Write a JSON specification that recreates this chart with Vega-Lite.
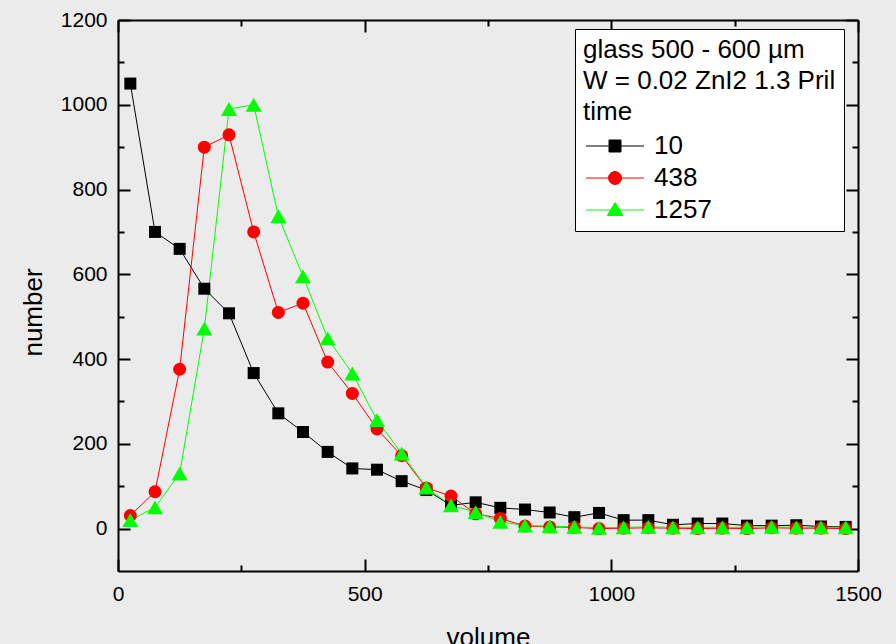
{
  "$schema": "https://vega.github.io/schema/vega-lite/v6.json",
  "width": 740,
  "height": 551,
  "autosize": {"type": "none"},
  "padding": {"left": 118, "top": 20, "right": 38, "bottom": 73},
  "background": "#ebebeb",
  "config": {
    "view": {"stroke": null},
    "font": "Liberation Sans",
    "axis": {
      "labelFont": "Liberation Sans",
      "titleFont": "Liberation Sans",
      "labelColor": "#000000",
      "titleColor": "#000000",
      "domainColor": "#000000",
      "tickColor": "#000000",
      "domainWidth": 2,
      "tickWidth": 2,
      "grid": false,
      "labelFontSize": 21,
      "titleFontSize": 26,
      "titleFontWeight": "normal",
      "labelFlush": false
    }
  },
  "data": {
    "values": [
      {"volume": 25, "number": 1050, "time": "10"},
      {"volume": 75, "number": 700, "time": "10"},
      {"volume": 125, "number": 660, "time": "10"},
      {"volume": 175, "number": 566, "time": "10"},
      {"volume": 225, "number": 508, "time": "10"},
      {"volume": 275, "number": 367, "time": "10"},
      {"volume": 325, "number": 272, "time": "10"},
      {"volume": 375, "number": 228, "time": "10"},
      {"volume": 425, "number": 181, "time": "10"},
      {"volume": 475, "number": 142, "time": "10"},
      {"volume": 525, "number": 139, "time": "10"},
      {"volume": 575, "number": 112, "time": "10"},
      {"volume": 625, "number": 91, "time": "10"},
      {"volume": 675, "number": 55, "time": "10"},
      {"volume": 725, "number": 62, "time": "10"},
      {"volume": 775, "number": 49, "time": "10"},
      {"volume": 825, "number": 45, "time": "10"},
      {"volume": 875, "number": 38, "time": "10"},
      {"volume": 925, "number": 27, "time": "10"},
      {"volume": 975, "number": 37, "time": "10"},
      {"volume": 1025, "number": 20, "time": "10"},
      {"volume": 1075, "number": 20, "time": "10"},
      {"volume": 1125, "number": 9, "time": "10"},
      {"volume": 1175, "number": 12, "time": "10"},
      {"volume": 1225, "number": 12, "time": "10"},
      {"volume": 1275, "number": 7, "time": "10"},
      {"volume": 1325, "number": 7, "time": "10"},
      {"volume": 1375, "number": 8, "time": "10"},
      {"volume": 1425, "number": 5, "time": "10"},
      {"volume": 1475, "number": 4, "time": "10"},
      {"volume": 25, "number": 31, "time": "438"},
      {"volume": 75, "number": 87, "time": "438"},
      {"volume": 125, "number": 376, "time": "438"},
      {"volume": 175, "number": 900, "time": "438"},
      {"volume": 225, "number": 929, "time": "438"},
      {"volume": 275, "number": 700, "time": "438"},
      {"volume": 325, "number": 510, "time": "438"},
      {"volume": 375, "number": 532, "time": "438"},
      {"volume": 425, "number": 393, "time": "438"},
      {"volume": 475, "number": 319, "time": "438"},
      {"volume": 525, "number": 235, "time": "438"},
      {"volume": 575, "number": 172, "time": "438"},
      {"volume": 625, "number": 96, "time": "438"},
      {"volume": 675, "number": 77, "time": "438"},
      {"volume": 725, "number": 35, "time": "438"},
      {"volume": 775, "number": 24, "time": "438"},
      {"volume": 825, "number": 6, "time": "438"},
      {"volume": 875, "number": 4, "time": "438"},
      {"volume": 925, "number": 3, "time": "438"},
      {"volume": 975, "number": 0, "time": "438"},
      {"volume": 1025, "number": 1, "time": "438"},
      {"volume": 1075, "number": 2, "time": "438"},
      {"volume": 1125, "number": 1, "time": "438"},
      {"volume": 1175, "number": 0, "time": "438"},
      {"volume": 1225, "number": 1, "time": "438"},
      {"volume": 1275, "number": 0, "time": "438"},
      {"volume": 1325, "number": 2, "time": "438"},
      {"volume": 1375, "number": 1, "time": "438"},
      {"volume": 1425, "number": 1, "time": "438"},
      {"volume": 1475, "number": 0, "time": "438"},
      {"volume": 25, "number": 20, "time": "1257"},
      {"volume": 75, "number": 50, "time": "1257"},
      {"volume": 125, "number": 130, "time": "1257"},
      {"volume": 175, "number": 472, "time": "1257"},
      {"volume": 225, "number": 990, "time": "1257"},
      {"volume": 275, "number": 1000, "time": "1257"},
      {"volume": 325, "number": 737, "time": "1257"},
      {"volume": 375, "number": 595, "time": "1257"},
      {"volume": 425, "number": 449, "time": "1257"},
      {"volume": 475, "number": 366, "time": "1257"},
      {"volume": 525, "number": 256, "time": "1257"},
      {"volume": 575, "number": 177, "time": "1257"},
      {"volume": 625, "number": 97, "time": "1257"},
      {"volume": 675, "number": 55, "time": "1257"},
      {"volume": 725, "number": 39, "time": "1257"},
      {"volume": 775, "number": 16, "time": "1257"},
      {"volume": 825, "number": 7, "time": "1257"},
      {"volume": 875, "number": 6, "time": "1257"},
      {"volume": 925, "number": 4, "time": "1257"},
      {"volume": 975, "number": 2, "time": "1257"},
      {"volume": 1025, "number": 3, "time": "1257"},
      {"volume": 1075, "number": 4, "time": "1257"},
      {"volume": 1125, "number": 3, "time": "1257"},
      {"volume": 1175, "number": 3, "time": "1257"},
      {"volume": 1225, "number": 3, "time": "1257"},
      {"volume": 1275, "number": 3, "time": "1257"},
      {"volume": 1325, "number": 4, "time": "1257"},
      {"volume": 1375, "number": 3, "time": "1257"},
      {"volume": 1425, "number": 3, "time": "1257"},
      {"volume": 1475, "number": 3, "time": "1257"}
    ]
  },
  "layer": [
    {
      "mark": {"type": "line", "strokeWidth": 1},
      "encoding": {
        "x": {
          "field": "volume", "type": "quantitative",
          "scale": {"domain": [0, 1500], "nice": false, "zero": false},
          "axis": {
            "orient": "top", "title": null, "labels": false,
            "values": [0, 250, 500, 750, 1000, 1250, 1500],
            "tickSize": {"condition": {"test": "datum.value % 500 === 0", "value": -12}, "value": -6}
          }
        },
        "y": {
          "field": "number", "type": "quantitative",
          "scale": {"domain": [-100, 1200], "nice": false, "zero": false},
          "axis": {
            "orient": "right", "title": null, "labels": false,
            "values": [0, 100, 200, 300, 400, 500, 600, 700, 800, 900, 1000, 1100, 1200],
            "tickSize": {"condition": {"test": "datum.value % 200 === 0", "value": -12}, "value": -6}
          }
        },
        "color": {
          "field": "time", "type": "nominal",
          "scale": {"domain": ["10", "438", "1257"], "range": ["#000000", "#ff0000", "#00ff00"]},
          "legend": {
            "orient": "none",
            "legendX": 457,
            "legendY": 9,
            "title": ["glass 500 - 600 µm", "W = 0.02 ZnI2 1.3 Pril", "time"],
            "titleFont": "Liberation Sans",
            "titleFontSize": 26,
            "titleFontWeight": "normal",
            "titleColor": "#000000",
            "titleLineHeight": 31,
            "titlePadding": 8,
            "titleLimit": 400,
            "labelFont": "Liberation Sans",
            "labelFontSize": 26,
            "labelColor": "#000000",
            "fillColor": "#ffffff",
            "strokeColor": "#000000",
            "padding": 8,
            "symbolSize": 400,
            "symbolOffset": 19,
            "labelOffset": 26,
            "rowPadding": 6,
            "symbolStrokeWidth": 1,
            "encode": {
              "symbols": {
                "update": {
                  "shape": {"signal": "datum.value === '10' ? 'M-2.9,0H2.9M-0.6,-0.6H0.6V0.6H-0.6Z' : datum.value === '438' ? 'M-2.9,0H2.9M0.65,0A0.65,0.65,0,1,1,-0.65,0A0.65,0.65,0,1,1,0.65,0Z' : 'M-2.9,0H2.9M0,-0.75L0.78,0.55H-0.78Z'"},
                  "stroke": {"signal": "datum.value === '10' ? '#000000' : datum.value === '438' ? '#ff0000' : '#00ff00'"},
                  "fill": {"signal": "datum.value === '10' ? '#000000' : datum.value === '438' ? '#ff0000' : '#00ff00'"},
                  "size": {"value": 400},
                  "strokeWidth": {"value": 1},
                  "opacity": {"value": 1}
                }
              }
            }
          }
        },
        "detail": {"field": "time"}
      }
    },
    {
      "transform": [{"filter": "datum.time === '10'"}],
      "mark": {"type": "point", "filled": true, "opacity": 1, "strokeWidth": 0, "shape": "square", "size": 144},
      "encoding": {
        "x": {
          "field": "volume", "type": "quantitative",
          "axis": {
            "orient": "bottom", "title": "volume",
            "values": [0, 250, 500, 750, 1000, 1250, 1500],
            "labelExpr": "datum.value % 500 === 0 ? datum.label : ''",
            "format": "d",
            "labelPadding": 24,
            "titlePadding": 20,
            "tickSize": {"condition": {"test": "datum.value % 500 === 0", "value": -12}, "value": -6}
          }
        },
        "y": {
          "field": "number", "type": "quantitative",
          "axis": {
            "orient": "left", "title": "number",
            "values": [0, 100, 200, 300, 400, 500, 600, 700, 800, 900, 1000, 1100, 1200],
            "labelExpr": "datum.value % 200 === 0 ? datum.label : ''",
            "format": "d",
            "labelPadding": 23,
            "titlePadding": 14,
            "titleY": 292,
            "tickSize": {"condition": {"test": "datum.value % 200 === 0", "value": -12}, "value": -6}
          }
        },
        "color": {"field": "time", "type": "nominal"}
      }
    },
    {
      "transform": [{"filter": "datum.time === '438'"}],
      "mark": {"type": "point", "filled": true, "opacity": 1, "strokeWidth": 0, "shape": "circle", "size": 169},
      "encoding": {
        "x": {"field": "volume", "type": "quantitative", "axis": null},
        "y": {"field": "number", "type": "quantitative", "axis": null},
        "color": {"field": "time", "type": "nominal"}
      }
    },
    {
      "transform": [{"filter": "datum.time === '1257'"}],
      "mark": {"type": "point", "filled": true, "opacity": 1, "strokeWidth": 0, "shape": "triangle-up", "size": 256},
      "encoding": {
        "x": {"field": "volume", "type": "quantitative", "axis": null},
        "y": {"field": "number", "type": "quantitative", "axis": null},
        "color": {"field": "time", "type": "nominal"}
      }
    }
  ],
  "resolve": {"axis": {"x": "independent", "y": "independent"}}
}
